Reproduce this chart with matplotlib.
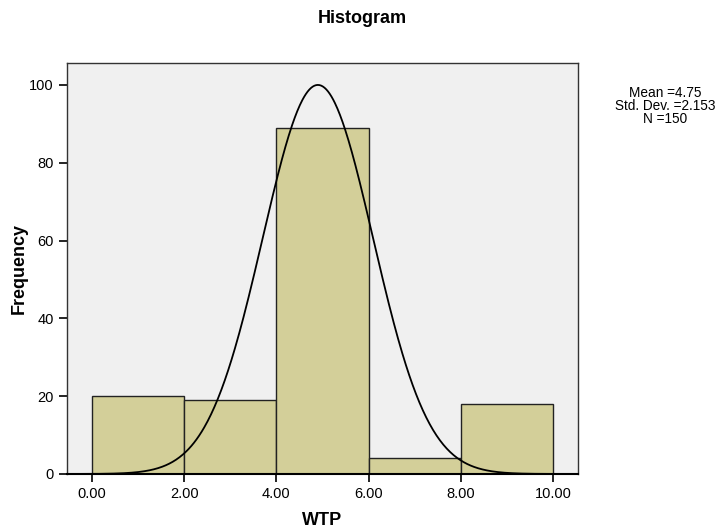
import numpy as np
import matplotlib
matplotlib.use("Agg")
import matplotlib.pyplot as plt

plt.rcParams['font.family'] = ['Liberation Sans', 'DejaVu Sans']

bin_edges = [0.0, 2.0, 4.0, 6.0, 8.0, 10.0]
counts = [20, 19, 89, 4, 18]
xtick_labels = ["0.00", "2.00", "4.00", "6.00", "8.00", "10.00"]
yticks = [0, 20, 40, 60, 80, 100]
curve_mean = 4.9
curve_sd = 1.197
n_total = 150
stats_text = "Mean =4.75\nStd. Dev. =2.153\nN =150"

fig = plt.figure(figsize=(7.25, 5.30), dpi=100)
ax = fig.add_axes([0.092, 0.1057, 0.705, 0.776])
ax.set_facecolor('#f0f0f0')

widths = np.diff(bin_edges)
ax.bar(bin_edges[:-1], counts, width=widths, align='edge',
       color='#d3cf99', edgecolor='#222222', linewidth=1.0, zorder=2)

xs = np.linspace(-0.55, 10.55, 600)
bw = widths[0]
ys = n_total * bw / (curve_sd * np.sqrt(2 * np.pi)) * np.exp(-0.5 * ((xs - curve_mean) / curve_sd) ** 2)
ax.plot(xs, ys, color='black', linewidth=1.3, zorder=3)

ax.set_xlim(-0.55, 10.54)
ax.set_ylim(0, 105.7)
ax.set_xticks(bin_edges)
ax.set_xticklabels(xtick_labels)
ax.set_yticks(yticks)
ax.tick_params(direction='out', length=6, width=1.2, labelsize=10.5, colors='black')
for s in ax.spines.values():
    s.set_color('#333333')
    s.set_linewidth(1.0)
ax.spines['bottom'].set_linewidth(1.5)
ax.spines['bottom'].set_color('black')

ax.set_xlabel("WTP", fontsize=13, fontweight='bold', labelpad=8)
ax.set_ylabel("Frequency", fontsize=13, fontweight='bold', labelpad=1)
fig.text(0.5, 0.966, "Histogram", ha='center', va='center', fontsize=13, fontweight='bold')
fig.text(0.918, 0.8, stats_text, ha='center', va='center', fontsize=9.8, linespacing=0.9)

fig.savefig("out.png", dpi=100)
